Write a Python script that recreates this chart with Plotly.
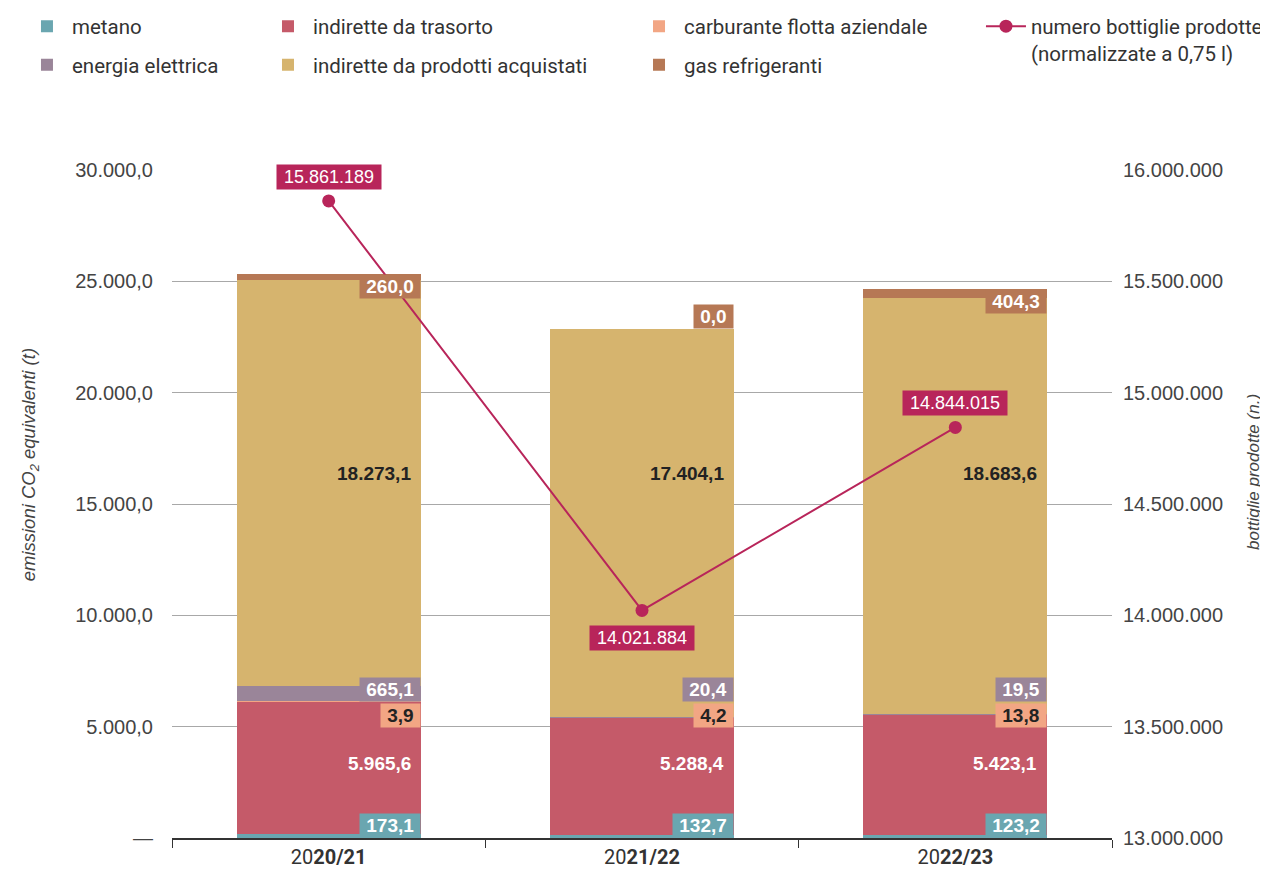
import plotly.graph_objects as go

# ---------------- data ----------------
years = ["2020/21", "2021/22", "2022/23"]
year_ticktext = ["20<b>20/21</b>", "20<b>21/22</b>", "20<b>22/23</b>"]

metano = [173.1, 132.7, 123.2]
trasporto = [5965.6, 5288.4, 5423.1]
carburante = [3.9, 4.2, 13.8]
energia = [665.1, 20.4, 19.5]
prodotti = [18273.1, 17404.1, 18683.6]
gas = [260.0, 0.0, 404.3]
bottiglie = [15861189, 14021884, 14844015]

left_tickvals = [0, 5000, 10000, 15000, 20000, 25000, 30000]
right_tickvals = [13000000, 13500000, 14000000, 14500000, 15000000, 15500000, 16000000]

left_title = "<i>emissioni CO<sub>2</sub> equivalenti (t)</i>"
right_title = "<i>bottiglie prodotte (n.)</i>"

# ---------------- style ----------------
COL = {
    "metano": "#6aa6b0",
    "trasporto": "#c55a69",
    "carburante": "#f2a684",
    "energia": "#9a8599",
    "prodotti": "#d6b46e",
    "gas": "#b67855",
    "line": "#b8255a",
}
BAR_W = 0.588
NUM_FONT = "Liberation Sans, Arial, sans-serif"
TXT_FONT = "Roboto, sans-serif"
NB = "\u00a0"


def it_fmt(v, dec=1):
    s = f"{v:,.{dec}f}"
    return s.replace(",", "X").replace(".", ",").replace("X", ".")


series = [
    # name, values, colour key, legend, label mode, label text colour
    ("metano", metano, "metano", "legend", "base", "white"),
    ("indirette da trasorto", trasporto, "trasporto", "legend2", "low", "white"),
    ("carburante flotta aziendale", carburante, "carburante", "legend3", "row1", "#222222"),
    ("energia elettrica", energia, "energia", "legend", "row2", "white"),
    ("indirette da prodotti acquistati", prodotti, "prodotti", "legend2", "high", "#222222"),
    ("gas refrigeranti", gas, "gas", "legend3", "top", "white"),
]

# fixed label levels (data units of left axis)
LEVEL = {"low": 3325, "high": 16350, "row1": 5500, "row2": 6650}

fig = go.Figure()
annotations = []
cum = [0.0] * len(years)

for k, (name, vals, ck, lg, mode, tcol) in enumerate(series):
    fig.add_trace(go.Bar(
        x=years, y=vals, name=name, marker=dict(color=COL[ck], line=dict(width=0)),
        width=BAR_W, legend=lg, legendgroup=name, hoverinfo="skip",
    ))
    for i, v in enumerate(vals):
        base = cum[i]
        top = cum[i] + v
        xpos = i + BAR_W / 2
        txt = it_fmt(v)
        common = dict(x=xpos, xref="x", yref="y", xanchor="right", showarrow=False,
                      font=dict(family=NUM_FONT, size=19, color=tcol))
        if mode in ("low", "high"):
            annotations.append(dict(y=LEVEL[mode], yanchor="middle", text=f"<b>{txt}</b>",
                                    xshift=-8, **common))
        else:
            if mode == "base":
                y, ya = base, "bottom"
            elif mode == "top":
                y, ya = (top, "top") if v > 0 else (top, "bottom")
            else:
                y, ya = LEVEL[mode], "middle"
            annotations.append(dict(y=y, yanchor=ya, text=f"<b>{NB}{txt}{NB}</b>",
                                    bgcolor=COL[ck], borderpad=1, **common))
        cum[i] = top

# line of bottles on the secondary axis
fig.add_trace(go.Scatter(
    x=years, y=bottiglie, name="numero bottiglie prodotte<br>(normalizzate a 0,75 l)",
    mode="lines+markers", yaxis="y2", legend="legend4",
    line=dict(color=COL["line"], width=2), marker=dict(color=COL["line"], size=13),
    hoverinfo="skip",
))
for i, v in enumerate(bottiglie):
    prev_v = bottiglie[i - 1] if i > 0 else None
    next_v = bottiglie[i + 1] if i < len(bottiglie) - 1 else None
    is_min = (prev_v is None or v < prev_v) and (next_v is None or v < next_v)
    annotations.append(dict(
        x=i, y=v, xref="x", yref="y2", showarrow=False,
        yanchor="top" if is_min else "bottom", yshift=-15 if is_min else 11,
        text=f"{NB}{it_fmt(v, 0)}{NB}", bgcolor=COL["line"], borderpad=2,
        font=dict(family=NUM_FONT, size=18, color="white"),
    ))

# axis titles
annotations.append(dict(text=left_title, xref="paper", yref="paper", x=-0.151, y=0.558,
                        textangle=-90, showarrow=False, xanchor="center", yanchor="middle",
                        font=dict(family=NUM_FONT, size=18.5, color="#444444")))
annotations.append(dict(text=right_title, xref="paper", yref="paper", x=1.151, y=0.548,
                        textangle=-90, showarrow=False, xanchor="center", yanchor="middle",
                        font=dict(family=NUM_FONT, size=17, color="#444444")))

left_ticktext = ["—"] + [it_fmt(v) for v in left_tickvals[1:]]
right_ticktext = [it_fmt(v, 0) for v in right_tickvals]

legend_common = dict(orientation="v", yanchor="top", xanchor="left", y=1.245,
                     font=dict(family=TXT_FONT, size=20.5, color="#333333"),
                     bgcolor="rgba(0,0,0,0)", tracegroupgap=9, traceorder="grouped",
                     itemwidth=40, valign="top")

fig.update_layout(
    width=1260, height=863,
    margin=dict(l=164, r=156, t=162, b=33, autoexpand=False),
    paper_bgcolor="white", plot_bgcolor="white",
    barmode="stack", bargap=1 - BAR_W,
    showlegend=True,
    legend=dict(x=-0.1596, **legend_common),
    legend2=dict(x=0.0968, **legend_common),
    legend3=dict(x=0.4915, **legend_common),
    legend4=dict(x=0.8606, **legend_common),
    xaxis=dict(
        type="category", range=[-0.5, 2.5], tickmode="array", tickvals=years,
        ticktext=year_ticktext, tickson="boundaries", ticks="outside", ticklen=8,
        tickcolor="#333333", showline=True, linecolor="#333333", linewidth=1.5,
        showgrid=False, tickfont=dict(family=TXT_FONT, size=20, color="#333333"),
        automargin=False,
    ),
    yaxis=dict(
        range=[0, 30000], tickmode="array", tickvals=left_tickvals, ticktext=left_ticktext,
        showgrid=True, gridcolor="#a8a8a8", gridwidth=1, zeroline=False, showline=False,
        ticks="", ticklabelstandoff=18,
        tickfont=dict(family=NUM_FONT, size=20, color="#444444"),
        automargin=False,
    ),
    yaxis2=dict(
        overlaying="y", side="right", range=[13000000, 16000000], tickmode="array",
        tickvals=right_tickvals, ticktext=right_ticktext, showgrid=False, zeroline=False,
        showline=False, ticks="", ticklabelstandoff=10,
        tickfont=dict(family=NUM_FONT, size=20, color="#444444"),
        automargin=False,
    ),
    annotations=annotations,
)

fig.write_html("out.html")
